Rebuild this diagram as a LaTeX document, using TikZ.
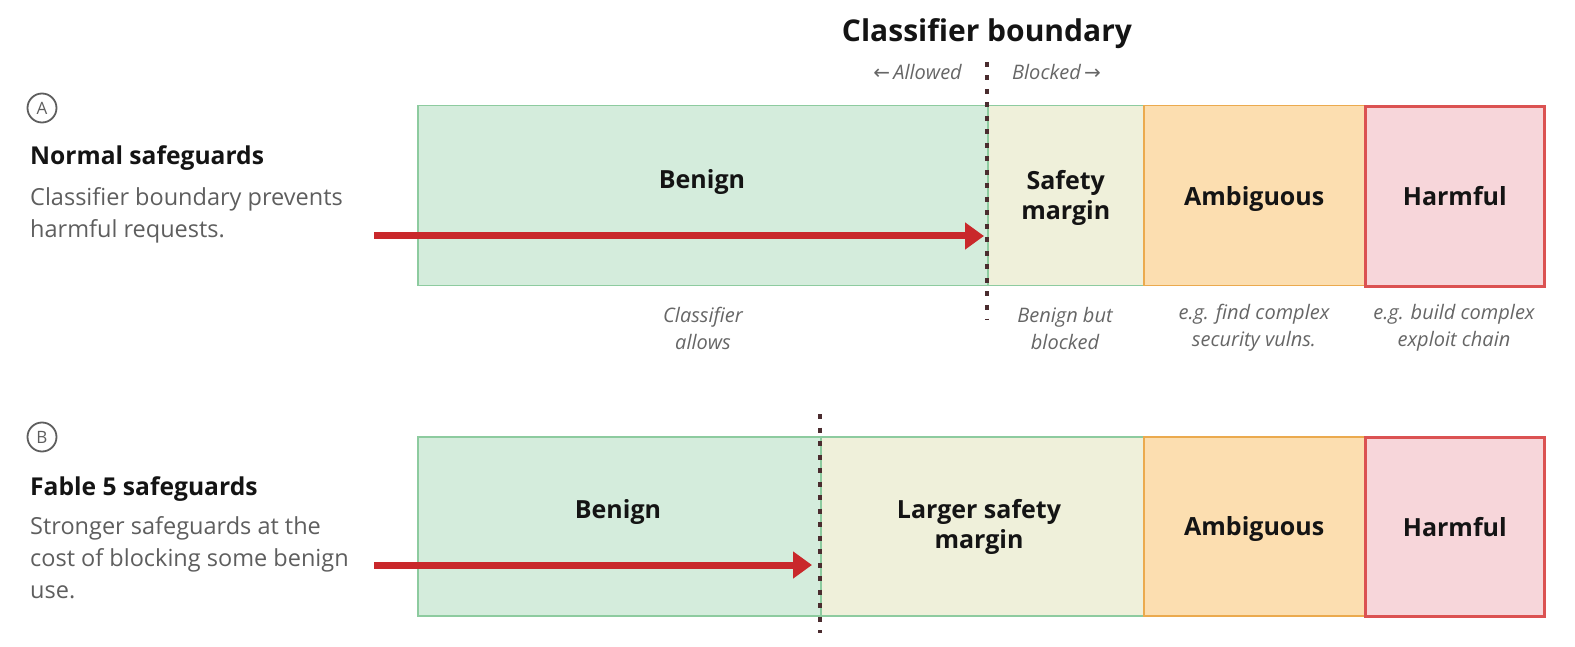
\documentclass[tikz,border=0pt]{standalone}
\usepackage{fontspec}
\setmainfont{Open Sans}
\newfontfamily\arrowfont{DejaVu Sans}
\usetikzlibrary{arrows.meta, positioning}
\definecolor{ink}{HTML}{141414}
\definecolor{mute}{HTML}{5E5E5E}
\definecolor{note}{HTML}{666666}
\definecolor{okfill}{HTML}{D4ECDC}
\definecolor{okline}{HTML}{8DCB9F}
\definecolor{marginfill}{HTML}{EFF0DA}
\definecolor{ambfill}{HTML}{FCDEB0}
\definecolor{ambline}{HTML}{EBAA4E}
\definecolor{harmfill}{HTML}{F7D6DA}
\definecolor{harmline}{HTML}{DB5252}
\definecolor{reqred}{HTML}{C9282B}
\definecolor{cutline}{HTML}{4A2C2F}

\begin{document}
\begin{tikzpicture}[
  x=1pt, y=-1pt,
  zone/.style={draw, rectangle, anchor=north west, inner sep=0pt,
               minimum height=180pt, line width=1.5pt},
  ok/.style={zone, fill=okfill, draw=okline},
  mrg/.style={zone, fill=marginfill, draw=okline},
  amb/.style={zone, fill=ambfill, draw=ambline},
  harm/.style={zone, fill=harmfill, draw=harmline, line width=2.6pt},
  zlab/.style={font=\fontsize{25}{30}\selectfont\bfseries, text=ink,
               align=center, inner sep=0pt},
  note/.style={font=\fontsize{20}{27}\selectfont\itshape, text=note,
               align=center, inner sep=0pt},
  head/.style={font=\fontsize{24.6}{28}\selectfont\bfseries, text=ink,
               anchor=west, inner sep=0pt},
  desc/.style={font=\fontsize{23.5}{32}\selectfont, text=mute,
               anchor=north west, align=left, inner sep=0pt},
  tag/.style={circle, draw=mute, line width=1.8pt, minimum size=29pt,
              inner sep=0pt, text=mute, font=\fontsize{17}{17}\selectfont},
  cut/.style={cutline, line width=3.5pt, dash pattern=on 5pt off 8.5pt},
  req/.style={-{Triangle[length=19pt, width=26pt]}, reqred, line width=7pt}
]
\useasboundingbox (0,0) rectangle (1575,647);

% --- top: classifier boundary ---
\node[font=\fontsize{30}{34}\selectfont\bfseries, text=ink] (ttl) at (987,34) {Classifier boundary};
\node[note, anchor=east] (allow) at (962,72) {{\arrowfont\upshape ←}\,Allowed};
\node[note, anchor=west] (block) at (1012,72) {Blocked\,{\arrowfont\upshape →}};

% --- row A: normal safeguards ---
\node[tag] (tagA) at (42,108) {A};
\node[head] (headA) at (30,158) {Normal safeguards};
\node[desc] (descA) at (30,187) {Classifier boundary prevents\\ harmful requests.};

\node[ok, minimum width=570pt]   (aben)  at (417,105) {};
\node[mrg, minimum width=156pt]  (amrg)  at (987,105) {};
\node[amb, minimum width=221pt]  (aamb)  at (1143,105) {};
\node[harm, minimum width=179pt] (aharm) at (1364,105) {};

\node[zlab] at (702,182) (abenl) {Benign};
\node[zlab] at ([yshift=-2pt]amrg.center) (amrgl) {Safety\\ margin};
\node[zlab] at ([yshift=-3pt]aamb.center) (aambl) {Ambiguous};
\node[zlab] at (aharm.center) (aharml) {Harmful};

\node[note] (nA1) at (703,328) {Classifier\\ allows};
\node[note] (nA2) at (1065,328) {Benign but\\ blocked};
\node[note] (nA3) at (1254,328) {e.g. find complex\\ security vulns.};
\node[note] (nA4) at (1454,328) {e.g. build complex\\ exploit chain};

\coordinate (acutT) at (987,62);
\coordinate (acutB) at (987,320);
\coordinate (areq) at (374,236);
\draw[req] (areq) -- ([xshift=-3pt]acutT |- areq);
\draw[cut] (acutT) -- (acutB);

% --- row B: fable 5 safeguards ---
\node[tag] (tagB) at (42,437) {B};
\node[head] (headB) at (30,489) {Fable 5 safeguards};
\node[desc] (descB) at (30,516) {Stronger safeguards at the\\ cost of blocking some benign\\ use.};

\node[ok, minimum width=403pt, minimum height=179pt]   (bben)  at (417,436) {};
\node[mrg, minimum width=323pt, minimum height=179pt]  (bmrg)  at (820,436) {};
\node[amb, minimum width=221pt, minimum height=179pt]  (bamb)  at (1143,436) {};
\node[harm, minimum width=179pt, minimum height=179pt] (bharm) at (1364,436) {};

\node[zlab] at (618,512) (bbenl) {Benign};
\node[zlab] at (979,527) (bmrgl) {Larger safety\\ margin};
\node[zlab] at ([yshift=-3pt]bamb.center) (bambl) {Ambiguous};
\node[zlab] at (bharm.center) (bharml) {Harmful};

\coordinate (bcutT) at (820,414);
\coordinate (bcutB) at (820,633);
\coordinate (breq) at (374,565);
\draw[req] (breq) -- ([xshift=-8pt]bcutT |- breq);
\draw[cut] (bcutT) -- (bcutB);
\end{tikzpicture}
\end{document}
